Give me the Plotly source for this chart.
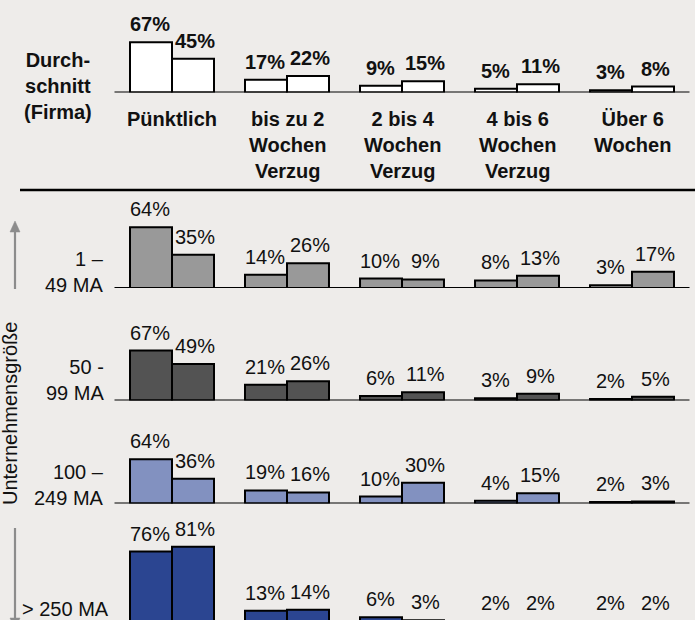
import plotly.graph_objects as go

# ---------------- data ----------------
categories = ["Pünktlich", "bis zu 2 Wochen Verzug", "2 bis 4 Wochen Verzug",
              "4 bis 6 Wochen Verzug", "Über 6 Wochen"]
category_labels = ["Pünktlich", "bis zu 2<br>Wochen<br>Verzug", "2 bis 4<br>Wochen<br>Verzug",
                   "4 bis 6<br>Wochen<br>Verzug", "Über 6<br>Wochen"]
row_labels = ["Durch-<br>schnitt<br>(Firma)", "1 –<br>49 MA", "50 -<br>99 MA",
              "100 –<br>249 MA", "> 250 MA"]
axis_title = "Unternehmensgröße"

avg_a = [67, 17, 9, 5, 3]
avg_b = [45, 22, 15, 11, 8]
ma_1_49_a = [64, 14, 10, 8, 3]
ma_1_49_b = [35, 26, 9, 13, 17]
ma_50_99_a = [67, 21, 6, 3, 2]
ma_50_99_b = [49, 26, 11, 9, 5]
ma_100_249_a = [64, 19, 10, 4, 2]
ma_100_249_b = [36, 16, 30, 15, 3]
ma_250_a = [76, 13, 6, 2, 2]
ma_250_b = [81, 14, 3, 2, 2]

rows = [(avg_a, avg_b), (ma_1_49_a, ma_1_49_b), (ma_50_99_a, ma_50_99_b),
        (ma_100_249_a, ma_100_249_b), (ma_250_a, ma_250_b)]

# ---------------- style ----------------
W, H = 695, 620
BG = "#EEECEA"
FONT = "Liberation Sans, Arial, sans-serif"
ARROW = "#8C8C8C"
fills = ["#FFFFFF", "#999999", "#535353", "#8291C0", "#2B4591"]
baselines = [92.5, 288, 400.5, 503.5, 623]     # px from top
scales = [0.75, 0.95, 0.745, 0.69, 0.94]       # px per percent
label_baselines = [65, 264, 372.3, 476.7, 614]
DOM_H = 95
X0, X1 = 114.5, 689.5

def py(px):
    return 1 - px / H

def px_x(px):
    return px / W

fig = go.Figure()
layout = dict(
    width=W, height=H, margin=dict(l=0, r=0, t=0, b=0),
    paper_bgcolor=BG, plot_bgcolor=BG, showlegend=False,
    barmode="group", bargap=0.27, bargroupgap=0,
    font=dict(family=FONT, color="#111111"),
)
annotations = []
shapes = []

for i, (a, b) in enumerate(rows):
    n = i + 1
    xa = "x" if n == 1 else f"x{n}"
    ya = "y" if n == 1 else f"y{n}"
    base = baselines[i]
    sc = scales[i]
    top_px = max(0, base - DOM_H)
    bot_px = min(base, H)
    dom = [py(bot_px), py(top_px)]
    rng = [(base - bot_px) / sc, (base - top_px) / sc]
    layout["xaxis" if n == 1 else f"xaxis{n}"] = dict(
        domain=[X0 / W, X1 / W], range=[-0.5, 4.5], visible=False,
        anchor=ya, categoryorder="array", categoryarray=categories, fixedrange=True)
    layout["yaxis" if n == 1 else f"yaxis{n}"] = dict(
        domain=dom, range=rng, visible=False, anchor=xa, fixedrange=True)
    for vals in (a, b):
        fig.add_trace(go.Bar(
            x=categories, y=vals, xaxis=xa, yaxis=ya,
            marker=dict(color=fills[i], line=dict(color="#000000", width=2)),
            hoverinfo="skip"))
    # baseline
    if base < H:
        shapes.append(dict(type="line", xref=f"{xa} domain", yref=ya,
                           x0=0, x1=1, y0=0, y1=0,
                           line=dict(color="#000000", width=2)))
    # value labels (placed in paper space with the same linear mapping as the row axis,
    # so labels of bars hidden below the page edge still show)
    bold = (i == 0)
    fs = 20

    def val_to_paper(v, dom=dom, rng=rng):
        return dom[0] + (v - rng[0]) / (rng[1] - rng[0]) * (dom[1] - dom[0])

    for vals, sh in ((a, -22), (b, 23)):
        for c, v in zip(categories, vals):
            txt = f"<b>{v}%</b>" if bold else f"{v}%"
            annotations.append(dict(
                xref=xa, yref="paper", x=c, y=val_to_paper(v), text=txt,
                showarrow=False, xanchor="center", yanchor="bottom",
                xshift=sh, yshift=5,
                font=dict(size=fs, family=FONT, color="#111111")))
    # row labels
    if i == 0:
        annotations.append(dict(
            xref="paper", yref="paper", x=58 / W, y=py(label_baselines[i] - 18.1),
            text=f"<b>{row_labels[i]}</b>", showarrow=False, xanchor="center",
            yanchor="top", align="center",
            font=dict(size=20, family=FONT, color="#111111")))
    else:
        xr = 111 if i == 4 else 106
        annotations.append(dict(
            xref="paper", yref="paper", x=xr / W, y=py(label_baselines[i] - 18.1),
            text=row_labels[i], showarrow=False, xanchor="right",
            yanchor="top", align="right",
            font=dict(size=20, family=FONT, color="#111111")))

# category labels under the average row
for c, lab in zip(categories, category_labels):
    annotations.append(dict(
        xref="x", yref="paper", x=c, y=py(124 - 18.1), text=f"<b>{lab}</b>",
        showarrow=False, xanchor="center", yanchor="top", align="center",
        font=dict(size=20, family=FONT, color="#111111")))

# separator line
shapes.append(dict(type="line", xref="paper", yref="paper",
                   x0=20 / W, x1=1, y0=py(190), y1=py(190),
                   line=dict(color="#000000", width=2.5)))

# size axis title
annotations.append(dict(
    xref="paper", yref="paper", x=10 / W, y=py(414), text=axis_title,
    textangle=-90, showarrow=False, xanchor="center", yanchor="middle",
    font=dict(size=20, family=FONT, color="#111111")))

# arrows (up: small companies, down: large companies)
shapes.append(dict(type="line", xref="paper", yref="paper",
                   x0=px_x(15), x1=px_x(15), y0=py(289), y1=py(230),
                   line=dict(color=ARROW, width=2.2)))
shapes.append(dict(type="path", xref="paper", yref="paper",
                   path=f"M {px_x(10)},{py(232)} L {px_x(20)},{py(232)} "
                        f"L {px_x(15)},{py(221)} Z",
                   fillcolor=ARROW, line=dict(color=ARROW, width=0.5)))
shapes.append(dict(type="line", xref="paper", yref="paper",
                   x0=px_x(15), x1=px_x(15), y0=py(528), y1=py(622),
                   line=dict(color=ARROW, width=2.2)))
shapes.append(dict(type="path", xref="paper", yref="paper",
                   path=f"M {px_x(10)},{py(618)} L {px_x(20)},{py(618)} "
                        f"L {px_x(15)},{py(629)} Z",
                   fillcolor=ARROW, line=dict(color=ARROW, width=0.5)))

layout["annotations"] = annotations
layout["shapes"] = shapes
fig.update_layout(**layout)
fig.write_html(
    "out.html",
    config={"displayModeBar": False, "staticPlot": True},
    post_script="document.body.style.margin='0px';document.body.style.padding='0px';"
                "document.body.style.overflow='hidden';"
                "document.body.style.background='" + BG + "';")
